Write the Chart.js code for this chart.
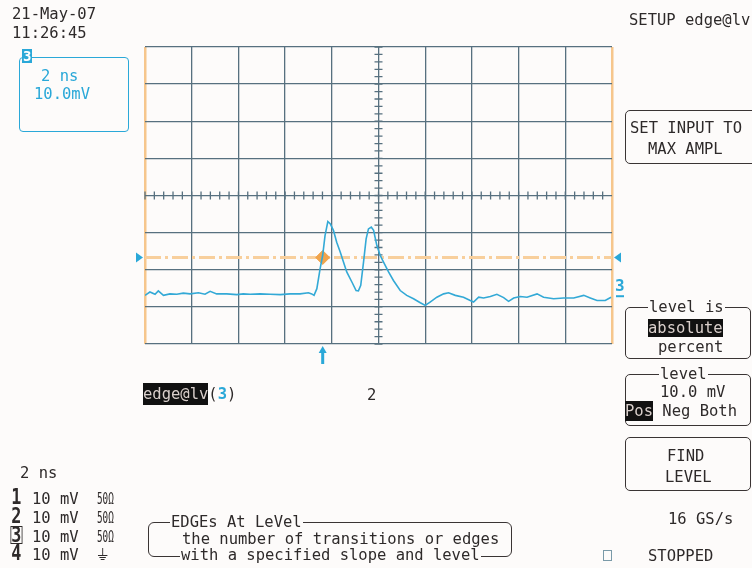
<!DOCTYPE html>
<html>
<head>
<meta charset="utf-8">
<title>edge@lv</title>
<script src="https://cdn.jsdelivr.net/npm/chart.js@4/dist/chart.umd.min.js"></script>
<style>
    body { margin: 0; background: #fdfbfa; }
    #scope { position: relative; width: 752px; height: 568px; overflow: hidden; font-family: "DejaVu Sans Mono", monospace; font-size: 15.5px; color: #2e2a2a; }
    #scope canvas { position: absolute; left: 0; top: 0; }
    .t { position: absolute; white-space: pre; line-height: 16px; }
    .box { position: absolute; border: 1.5px solid #3a3434; border-radius: 5px; }
    .title { position: absolute; white-space: pre; line-height: 16px; background: #fdfbfa; padding: 0 1px; }
    .hl { background: #111; color: #d9cfcb; }
    .cyan { color: #2aa8d8; }
    .ch { font-weight: bold; font-size: 21px; transform: scaleX(0.8); display: inline-block; }
    .ohm { font-size: 15px; transform: scaleX(0.62); transform-origin: left; display: inline-block; }
</style>
</head>
<body>
<div id="scope">
    <canvas id="myChart" width="752" height="568"></canvas>

    <div class="t" style="left:12px;top:6px">21-May-07</div>
    <div class="t" style="left:12px;top:25px">11:26:45</div>

    <div class="box" style="left:19px;top:57px;width:108px;height:73px;border-color:#2aa8d8;border-radius:4px"></div>
    <div class="t" style="left:22px;top:49px;background:#2aa8d8;color:#fff;font-weight:bold;font-size:14px;line-height:14px;padding:0 1px">3</div>
    <div class="t cyan" style="left:41px;top:68px">2 ns</div>
    <div class="t cyan" style="left:34px;top:86px">10.0mV</div>

    <div class="t" style="left:629px;top:12px">SETUP edge@lv</div>

    <div class="box" style="left:625px;top:110px;width:130px;height:52px"></div>
    <div class="t" style="left:630px;top:120px">SET INPUT TO</div>
    <div class="t" style="left:648px;top:141px">MAX AMPL</div>

    <div class="box" style="left:625px;top:307px;width:124px;height:50px"></div>
    <div class="title" style="left:648px;top:299px">level is</div>
    <div class="t hl" style="left:648px;top:319px;padding:1px 0">absolute</div>
    <div class="t" style="left:658px;top:339px">percent</div>

    <div class="box" style="left:625px;top:374px;width:124px;height:50px"></div>
    <div class="title" style="left:659px;top:366px">level</div>
    <div class="t" style="left:660px;top:384px">10.0 mV</div>
    <div class="t" style="left:625px;top:403px"><span class="hl" style="padding:1px 0">Pos</span> Neg Both</div>

    <div class="box" style="left:625px;top:437px;width:124px;height:52px"></div>
    <div class="t" style="left:667px;top:448px">FIND</div>
    <div class="t" style="left:665px;top:469px">LEVEL</div>

    <div class="t" style="left:668px;top:511px">16 GS/s</div>
    <div class="t" style="left:603px;top:550px;width:7px;height:9px;border:1.5px solid #7a9aa8"></div>
    <div class="t" style="left:648px;top:548px">STOPPED</div>

    <div class="t" style="left:143px;top:386px"><span class="hl" style="padding:2px 0">edge@lv</span>(<span class="cyan" style="font-weight:bold">3</span>)</div>
    <div class="t" style="left:367px;top:387px">2</div>

    <div class="t" style="left:20px;top:465px">2 ns</div>
    <div class="t" style="left:10px;top:489px"><span class="ch">1</span> 10 mV  <span class="ohm">50Ω</span></div>
    <div class="t" style="left:10px;top:508px"><span class="ch">2</span> 10 mV  <span class="ohm">50Ω</span></div>
    <div class="t" style="left:10px;top:527px"><span class="ch" style="outline:1.5px solid #2e2a2a;line-height:16px">3</span> 10 mV  <span class="ohm">50Ω</span></div>
    <div class="t" style="left:10px;top:545px"><span class="ch">4</span> 10 mV  <span style="font-family:'DejaVu Sans'">⏚</span></div>

    <div class="box" style="left:148px;top:522px;width:362px;height:33px;border-radius:6px"></div>
    <div class="title" style="left:170px;top:514px">EDGEs At LeVel</div>
    <div class="t" style="left:182px;top:531px">the number of transitions or edges</div>
    <div class="title" style="left:180px;top:547px">with a specified slope and level</div>
</div>

<script>
const xMin = -10, xMax = 10, xStep = 2;
const yMin = -40, yMax = 40, yStep = 10;

const timeNs = [
    -10.0, -9.79, -9.57, -9.43, -9.21, -8.93, -8.64, -8.36, -8.07, -7.71,
    -7.43, -7.21, -6.93, -6.50, -6.07, -5.79, -5.50, -5.07, -4.64, -4.21,
    -3.79, -3.36, -3.00, -2.86, -2.76, -2.64, -2.50, -2.39, -2.29, -2.17,
    -2.07, -1.93, -1.79, -1.64, -1.50, -1.36, -1.14, -0.96, -0.86, -0.76,
    -0.64, -0.53, -0.43, -0.31, -0.21, -0.07, 0.07, 0.21, 0.43, 0.64,
    0.93, 1.21, 1.50, 1.79, 2.00, 2.21, 2.50, 2.79, 3.00, 3.29,
    3.64, 3.93, 4.07, 4.29, 4.50, 4.79, 5.07, 5.36, 5.57, 5.79,
    6.07, 6.36, 6.79, 7.07, 7.50, 7.93, 8.36, 8.79, 9.07, 9.36,
    9.71, 9.96
];
const traceMv = [
    -26.9, -26.0, -26.6, -25.7, -26.9, -26.5, -26.6, -26.3, -26.5, -26.2,
    -26.6, -25.8, -26.5, -26.5, -26.7, -26.5, -26.6, -26.5, -26.6, -26.7,
    -26.5, -26.5, -26.2, -26.5, -26.9, -25.1, -19.7, -16.1, -10.8, -7.0,
    -7.6, -9.4, -12.6, -15.2, -17.9, -20.6, -23.3, -25.6, -25.7, -24.2,
    -17.9, -11.7, -9.0, -8.5, -9.4, -13.5, -16.1, -17.9, -20.6, -22.9,
    -25.6, -26.9, -27.8, -28.9, -29.6, -28.7, -27.4, -26.5, -26.2, -26.9,
    -27.4, -28.3, -28.7, -27.4, -27.6, -27.2, -26.6, -27.5, -28.5, -27.6,
    -27.2, -27.4, -26.5, -27.4, -27.8, -27.6, -27.6, -26.9, -27.6, -28.3,
    -28.3, -27.4
];
const levelMv = -16.7;
const triggerNs = -2.39;

const gridColor = '#57707f';
const edgeColor = '#f6c68c';
const cyan = '#2aa8d8';

// marcas pequenas no centro da grade + setas
const scopePlugin = {
    id: 'scope',
    beforeDatasetsDraw(chart) {
        const c = chart.ctx, x = chart.scales.x, y = chart.scales.y;
        const cx = x.getPixelForValue(0), cy = y.getPixelForValue(0);
        c.save();
        c.strokeStyle = gridColor;
        c.lineWidth = 1.3;
        c.beginPath();
        for (let v = yMin; v <= yMax; v += yStep / 5) {
            const py = y.getPixelForValue(v);
            c.moveTo(cx - 4, py); c.lineTo(cx + 4, py);
        }
        for (let t = xMin; t <= xMax; t += xStep / 5) {
            const px = x.getPixelForValue(t);
            c.moveTo(px, cy - 4); c.lineTo(px, cy + 4);
        }
        c.stroke();
        c.restore();
    },
    afterDraw(chart) {
        const c = chart.ctx, x = chart.scales.x, y = chart.scales.y;
        const ly = y.getPixelForValue(levelMv);
        const left = chart.chartArea.left, right = chart.chartArea.right;
        c.save();
        c.fillStyle = cyan;
        c.beginPath();
        c.moveTo(left - 9, ly - 5); c.lineTo(left - 2, ly); c.lineTo(left - 9, ly + 5);
        c.fill();
        c.beginPath();
        c.moveTo(right + 9, ly - 5); c.lineTo(right + 2, ly); c.lineTo(right + 9, ly + 5);
        c.fill();
        // seta do trigger
        const tx = x.getPixelForValue(triggerNs), bottom = chart.chartArea.bottom;
        c.beginPath();
        c.moveTo(tx, bottom + 2); c.lineTo(tx - 4, bottom + 9); c.lineTo(tx + 4, bottom + 9);
        c.fill();
        c.fillRect(tx - 1.5, bottom + 8, 3, 12);
        // "3" do canal
        const endY = y.getPixelForValue(traceMv[traceMv.length - 1]);
        c.font = 'bold 16px "DejaVu Sans Mono"';
        c.fillText('3', right + 3, endY - 6);
        c.fillRect(right + 4, endY - 2, 8, 2);
        c.restore();
    }
};

var ctx = document.getElementById('myChart').getContext('2d');
var myChart = new Chart(ctx, {
    type: 'line',
    data: {
        datasets: [
            {
                label: 'C3',
                data: timeNs.map((t, i) => ({ x: t, y: traceMv[i] })),
                borderColor: '#33a9d6',
                borderWidth: 1.6,
                pointRadius: 0,
                tension: 0,
                order: 0
            },
            {
                label: 'trigger',
                type: 'scatter',
                data: [{ x: triggerNs, y: levelMv }],
                pointStyle: 'rectRot',
                pointRadius: 7,
                backgroundColor: '#f1a44c',
                borderColor: '#f1a44c',
                order: 1
            },
            {
                label: 'level',
                data: [{ x: xMin, y: levelMv }, { x: xMax, y: levelMv }],
                borderColor: '#f8cf9c',
                borderWidth: 3,
                borderDash: [16, 4, 3, 4],
                pointRadius: 0,
                order: 2
            }
        ]
    },
    options: {
        responsive: false,
        animation: false,
        devicePixelRatio: 1,
        layout: { padding: { left: 145, right: 140, top: 47, bottom: 224 } },
        plugins: { legend: { display: false }, tooltip: { enabled: false } },
        scales: {
            x: {
                type: 'linear', min: xMin, max: xMax,
                ticks: { display: false, stepSize: xStep },
                grid: {
                    drawTicks: false,
                    color: c => (c.tick && (c.tick.value === xMin || c.tick.value === xMax)) ? edgeColor : gridColor,
                    lineWidth: c => (c.tick && (c.tick.value === xMin || c.tick.value === xMax)) ? 2.5 : 1.3
                },
                border: { display: false }
            },
            y: {
                type: 'linear', min: yMin, max: yMax,
                ticks: { display: false, stepSize: yStep },
                grid: { drawTicks: false, color: gridColor, lineWidth: 1.3 },
                border: { display: false }
            }
        }
    },
    plugins: [scopePlugin]
});
</script>
</body>
</html>
